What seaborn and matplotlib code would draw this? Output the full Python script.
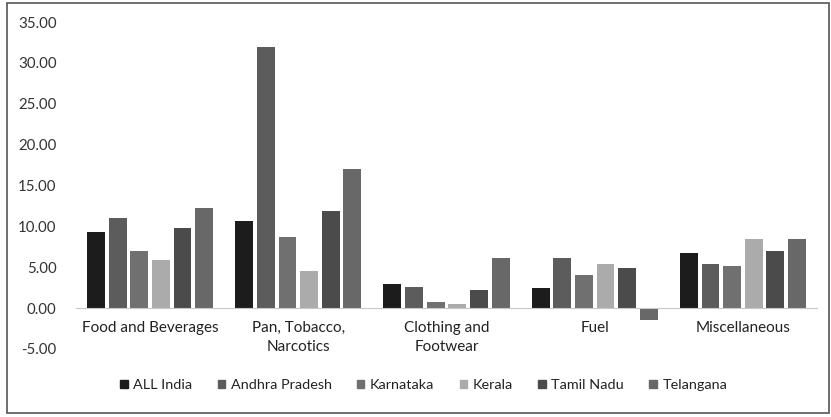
import pandas as pd
import numpy as np
import matplotlib.pyplot as plt
import seaborn as sns
from matplotlib.patches import Rectangle

categories = ['Food and Beverages', 'Pan, Tobacco,\nNarcotics', 'Clothing and\nFootwear', 'Fuel', 'Miscellaneous']
states = ['ALL India', 'Andhra Pradesh', 'Karnataka', 'Kerala', 'Tamil Nadu', 'Telangana']

all_india = [9.3, 10.6, 2.9, 2.5, 6.8]
andhra = [11.0, 31.9, 2.6, 6.1, 5.4]
karnataka = [7.0, 8.7, 0.7, 4.1, 5.2]
kerala = [5.9, 4.6, 0.5, 5.4, 8.5]
tamil_nadu = [9.8, 11.9, 2.2, 4.9, 7.0]
telangana = [12.3, 17.0, 6.1, -1.5, 8.5]

colors = ['#1c1c1c', '#5c5c5c', '#707070', '#ababab', '#4b4b4b', '#686868']

values = [all_india, andhra, karnataka, kerala, tamil_nadu, telangana]
rows = []
for s, vals in zip(states, values):
    for c, v in zip(categories, vals):
        rows.append({'Category': c, 'State': s, 'Value': v})
df = pd.DataFrame(rows)

sns.set_style('white')
plt.rcParams['font.family'] = ['Lato', 'DejaVu Sans']

fig = plt.figure(figsize=(8.31, 4.17), dpi=100)
ax = fig.add_axes([76/831, 1-349/417, (817-76)/831, (349-22)/417])

sns.barplot(data=df, x='Category', y='Value', hue='State', order=categories,
            hue_order=states, palette=dict(zip(states, colors)),
            width=0.875, gap=0.17, ax=ax, legend=False, linewidth=0)

ax.set_xlim(-0.5, 4.5)
ax.set_ylim(-5, 35)
ax.set_yticks(np.arange(-5, 36, 5))
ax.set_yticklabels(['%.2f' % t for t in np.arange(-5, 36, 5)], fontsize=10.8, color='#333333')
ax.set_xlabel('')
ax.set_ylabel('')
for sp in ['top', 'right', 'left']:
    ax.spines[sp].set_visible(False)
ax.spines['bottom'].set_position(('data', 0))
ax.spines['bottom'].set_color('#c8c8c8')
ax.tick_params(axis='x', length=0, pad=9, labelsize=11, labelcolor='#222222')
ax.tick_params(axis='y', length=0, pad=14)
for lbl in ax.get_xticklabels():
    lbl.set_linespacing(1.45)

handles = [Rectangle((0, 0), 1, 1, color=c) for c in colors]
fig.legend(handles, states, loc='center', bbox_to_anchor=(0.51, 1-385/417), ncol=6,
           frameon=False, fontsize=10.4, handlelength=0.5, handleheight=0.5,
           handletextpad=0.4, columnspacing=1.75, labelcolor='#222222')

fig.patches.append(Rectangle((7/831, 1-413/417), 822/831, 410/417, transform=fig.transFigure,
                             fill=False, edgecolor='#555555', linewidth=1.2))

fig.savefig('out.png', dpi=100)
